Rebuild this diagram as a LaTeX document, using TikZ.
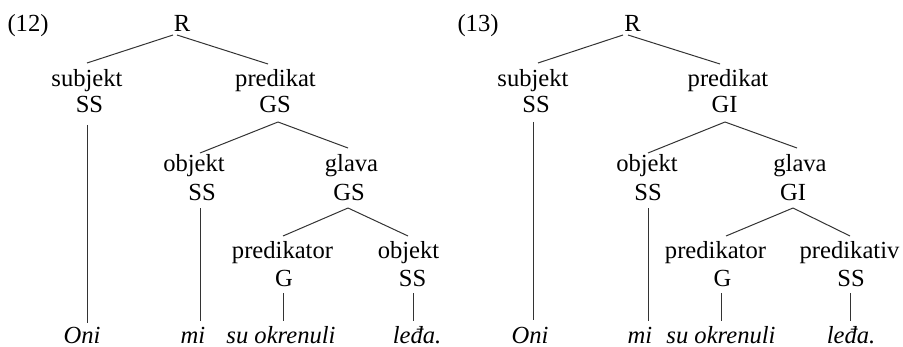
\documentclass[tikz,border=0pt]{standalone}
\usepackage{fontspec}
\setmainfont{Liberation Serif}
\begin{document}
\begin{tikzpicture}[x=0.5pt,y=-0.5pt,
  lbl/.style={anchor=base,inner sep=0pt,font=\fontsize{12.3}{14}\selectfont},
  wrd/.style={lbl,font=\fontsize{12.3}{14}\selectfont\itshape},
  edge/.style={draw=black!80,line width=0.5pt}]
\useasboundingbox (0,0) rectangle (903,347);
% ---------- Tree (12) ----------
\node[lbl] (n12) at (28,32) {(12)};
\node[lbl] (aR) at (182,32) {R};
\node[lbl] (aSubj) at (87,87) {subjekt};
\node[lbl] (aSS1) at (89.5,113) {SS};
\node[lbl] (aPred) at (275.5,87) {predikat};
\node[lbl] (aGS1) at (275,113) {GS};
\node[lbl] (aObj) at (194,172) {objekt};
\node[lbl] (aSS2) at (202,200) {SS};
\node[lbl] (aGl) at (351.5,172) {glava};
\node[lbl] (aGS2) at (349,200) {GS};
\node[lbl] (aPrk) at (282.5,258) {predikator};
\node[lbl] (aG) at (284,286) {G};
\node[lbl] (aObj2) at (408.5,258) {objekt};
\node[lbl] (aSS3) at (412.5,286) {SS};
\node[wrd] (aOni) at (82,343) {Oni};
\node[wrd] (aMi) at (193,343) {mi};
\node[wrd] (aSu) at (281,343) {su okrenuli};
\node[wrd] (aLe) at (417,343) {leđa.};
\coordinate (aRl) at (173,35); \coordinate (aRr) at (177,35);
\coordinate (aSubjT) at (87,63); \coordinate (aPredT) at (268,64);
\coordinate (aSS1B) at (87,125); \coordinate (aOniT) at (87,323);
\coordinate (aGS1B) at (278,122); \coordinate (aObjT) at (200,153); \coordinate (aGlT) at (348,148);
\coordinate (aSS2B) at (200,208); \coordinate (aMiT) at (200,321);
\coordinate (aGS2B) at (348,208); \coordinate (aPrkT) at (283,236); \coordinate (aObj2T) at (408,236);
\coordinate (aGB) at (283,293); \coordinate (aSuT) at (283,321);
\coordinate (aSS3B) at (413,293); \coordinate (aLeT) at (413,321);
\draw[edge] (aRl) -- (aSubjT);
\draw[edge] (aRr) -- (aPredT);
\draw[edge] (aSS1B) -- (aOniT);
\draw[edge] (aGS1B) -- (aObjT);
\draw[edge] (aGS1B) -- (aGlT);
\draw[edge] (aSS2B) -- (aMiT);
\draw[edge] (aGS2B) -- (aPrkT);
\draw[edge] (aGS2B) -- (aObj2T);
\draw[edge] (aGB) -- (aSuT);
\draw[edge] (aSS3B) -- (aLeT);
% ---------- Tree (13) ----------
\node[lbl] (n13) at (478,32) {(13)};
\node[lbl] (bR) at (632.5,32) {R};
\node[lbl] (bSubj) at (533,87) {subjekt};
\node[lbl] (bSS1) at (536,113) {SS};
\node[lbl] (bPred) at (728,87) {predikat};
\node[lbl] (bGI1) at (724.5,113) {GI};
\node[lbl] (bObj) at (647,172) {objekt};
\node[lbl] (bSS2) at (648,200) {SS};
\node[lbl] (bGl) at (800,172) {glava};
\node[lbl] (bGI2) at (793,200) {GI};
\node[lbl] (bPrk) at (715.5,258) {predikator};
\node[lbl] (bG) at (722.5,286) {G};
\node[lbl] (bPrv) at (849.5,258) {predikativ};
\node[lbl] (bSS3) at (851,286) {SS};
\node[wrd] (bOni) at (530,343) {Oni};
\node[wrd] (bMi) at (640,343) {mi};
\node[wrd] (bSu) at (721,343) {su okrenuli};
\node[wrd] (bLe) at (851,343) {leđa.};
\coordinate (bRl) at (623,35); \coordinate (bRr) at (628,35);
\coordinate (bSubjT) at (538,63); \coordinate (bPredT) at (720,64);
\coordinate (bSS1B) at (533,122); \coordinate (bOniT) at (533,320);
\coordinate (bGI1B) at (725,122); \coordinate (bObjT) at (648,153); \coordinate (bGlT) at (797,148);
\coordinate (bSS2B) at (648,208); \coordinate (bMiT) at (648,321);
\coordinate (bGI2B) at (793,208); \coordinate (bPrkT) at (726,236); \coordinate (bPrvT) at (850,236);
\coordinate (bGB) at (721,293); \coordinate (bSuT) at (721,321);
\coordinate (bSS3B) at (850,293); \coordinate (bLeT) at (850,321);
\draw[edge] (bRl) -- (bSubjT);
\draw[edge] (bRr) -- (bPredT);
\draw[edge] (bSS1B) -- (bOniT);
\draw[edge] (bGI1B) -- (bObjT);
\draw[edge] (bGI1B) -- (bGlT);
\draw[edge] (bSS2B) -- (bMiT);
\draw[edge] (bGI2B) -- (bPrkT);
\draw[edge] (bGI2B) -- (bPrvT);
\draw[edge] (bGB) -- (bSuT);
\draw[edge] (bSS3B) -- (bLeT);
\end{tikzpicture}
\end{document}
